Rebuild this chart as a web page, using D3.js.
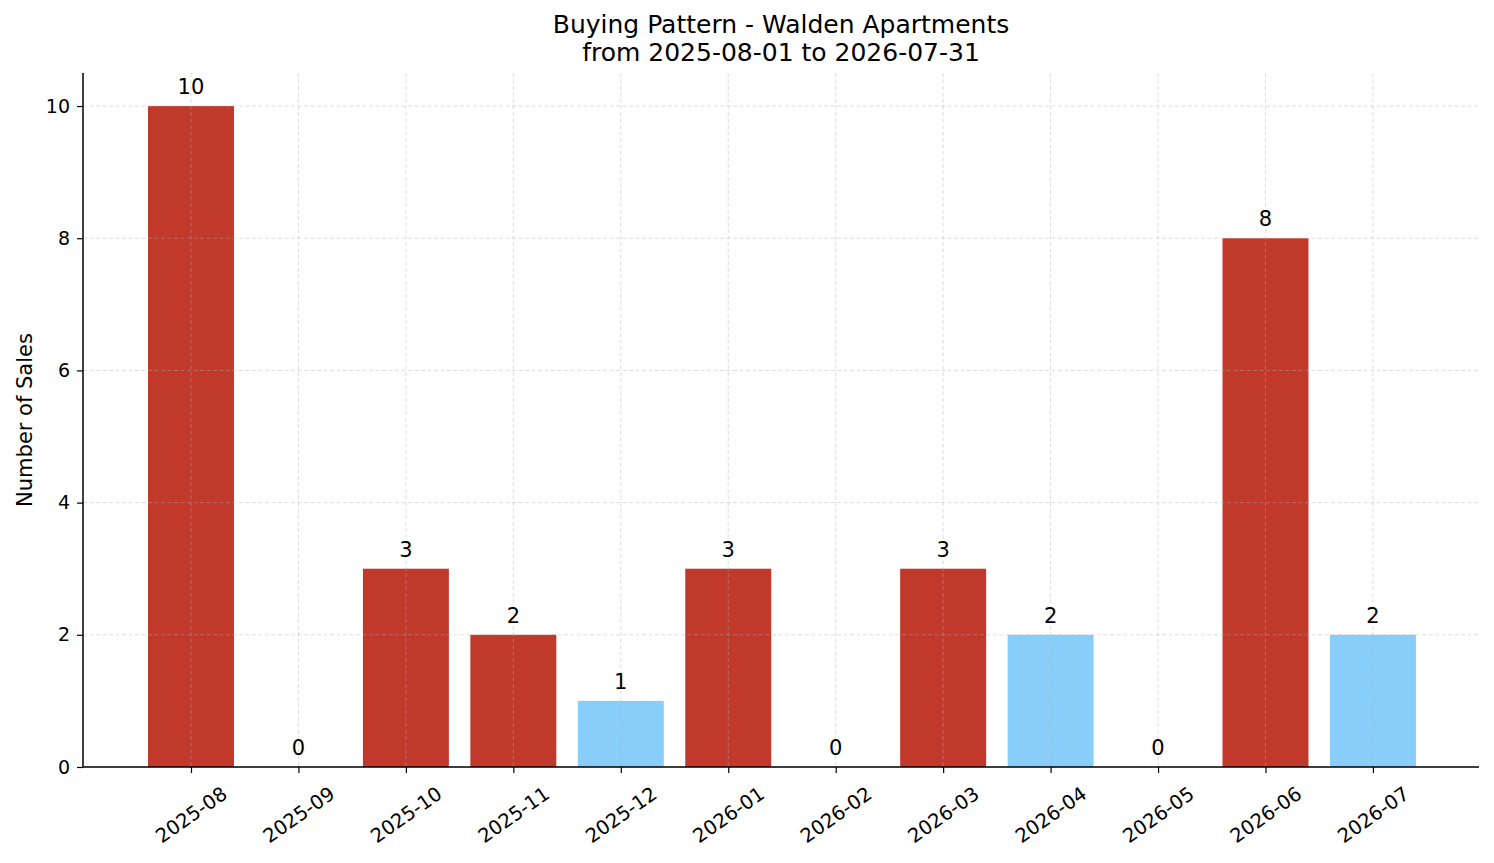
<!DOCTYPE html>
<html>
<head>
<meta charset="utf-8">
<script src="https://cdn.jsdelivr.net/npm/d3@7/dist/d3.min.js"></script>
<style>
  body { margin: 0; background: #fff; }
  svg text { font-family: "DejaVu Sans", sans-serif; fill: #000; }
</style>
</head>
<body>
<svg id="chart" width="1494" height="863"></svg>
<script>
// chart data
var months = ["2025-08","2025-09","2025-10","2025-11","2025-12","2026-01",
              "2026-02","2026-03","2026-04","2026-05","2026-06","2026-07"];
var sales = [10, 0, 3, 2, 1, 3, 0, 3, 2, 0, 8, 2];
// which group each month's bar belongs to (drives the colour)
var groups = ["high","high","high","high","low","high",
              "high","high","low","high","high","low"];
var yTicks = [0, 2, 4, 6, 8, 10];
var titleLines = ["Buying Pattern - Walden Apartments", "from 2025-08-01 to 2026-07-31"];

var svg = d3.select("#chart"),
    mLeft = 83, mRight = 1479, mTop = 73, mBottom = 767;

var color = d3.scaleOrdinal().domain(["high","low"]).range(["#c0392b","#87cefa"]);

// band of 1 per category, bar 0.8 wide, small margin either side
var n = months.length;
var xLin = d3.scaleLinear().domain([-1.005, n - 1 + 0.987]).range([mLeft, mRight]);
var y = d3.scaleLinear().domain([0, 10.5]).range([mBottom, mTop]);
var barW = xLin(0.8) - xLin(0);

var data = months.map(function(m, i) { return {month: m, value: sales[i], group: groups[i], i: i}; });

// bars
svg.append("g").selectAll("rect")
  .data(data)
  .enter().append("rect")
  .attr("x", function(d) { return xLin(d.i) - barW / 2; })
  .attr("y", function(d) { return y(d.value); })
  .attr("width", barW)
  .attr("height", function(d) { return mBottom - y(d.value); })
  .attr("fill", function(d) { return color(d.group); });

// grid (drawn on top like the original)
var grid = svg.append("g").attr("stroke", "#b0b0b0").attr("stroke-opacity", 0.55)
  .attr("stroke-width", 0.8).attr("stroke-dasharray", "4,2.5");
grid.selectAll("line.h").data(yTicks).enter().append("line")
  .attr("x1", mLeft).attr("x2", mRight)
  .attr("y1", function(d) { return y(d); }).attr("y2", function(d) { return y(d); });
grid.selectAll("line.v").data(data).enter().append("line")
  .attr("y1", mTop).attr("y2", mBottom)
  .attr("x1", function(d) { return xLin(d.i); }).attr("x2", function(d) { return xLin(d.i); });

// value labels
svg.append("g").selectAll("text")
  .data(data)
  .enter().append("text")
  .attr("x", function(d) { return xLin(d.i); })
  .attr("y", function(d) { return y(d.value) - 12; })
  .attr("text-anchor", "middle")
  .attr("font-size", "21px")
  .text(function(d) { return d.value; });

// y axis
var yAxis = svg.append("g")
  .attr("transform", "translate(" + mLeft + ",0)")
  .call(d3.axisLeft(y).tickValues(yTicks).tickSize(6).tickPadding(7).tickFormat(d3.format("d")));
yAxis.selectAll("text").attr("font-size", "19px").style("font-family", "DejaVu Sans");
yAxis.select(".domain").remove();

// x axis
var xAxis = svg.append("g")
  .attr("transform", "translate(0," + mBottom + ")")
  .call(d3.axisBottom(xLin).tickValues(d3.range(n)).tickSize(6)
        .tickFormat(function(i) { return months[i]; }));
xAxis.select(".domain").remove();
xAxis.selectAll(".tick text")
  .attr("font-size", "19.5px")
  .style("font-family", "DejaVu Sans")
  .attr("text-anchor", "middle")
  .attr("dy", null)
  .attr("y", 0)
  .attr("dominant-baseline", "central")
  .attr("transform", "translate(0,48) rotate(-35)");
svg.selectAll(".tick line").attr("stroke", "#000").attr("stroke-width", 1.2);

// spines: left and bottom only
svg.append("line").attr("x1", mLeft).attr("x2", mLeft).attr("y1", mTop).attr("y2", mBottom)
  .attr("stroke", "#000").attr("stroke-width", 1.5);
svg.append("line").attr("x1", mLeft).attr("x2", mRight).attr("y1", mBottom).attr("y2", mBottom)
  .attr("stroke", "#000").attr("stroke-width", 1.5);

// y label
svg.append("text")
  .attr("transform", "translate(32," + ((mTop + mBottom) / 2) + ") rotate(-90)")
  .attr("text-anchor", "middle")
  .attr("font-size", "21px")
  .text("Number of Sales");

// title
svg.append("text")
  .attr("x", (mLeft + mRight) / 2)
  .attr("text-anchor", "middle")
  .attr("font-size", "25px")
  .selectAll("tspan").data(titleLines).enter().append("tspan")
  .attr("x", (mLeft + mRight) / 2)
  .attr("y", function(d, i) { return 33 + i * 28; })
  .text(function(d) { return d; });
</script>
</body>
</html>
